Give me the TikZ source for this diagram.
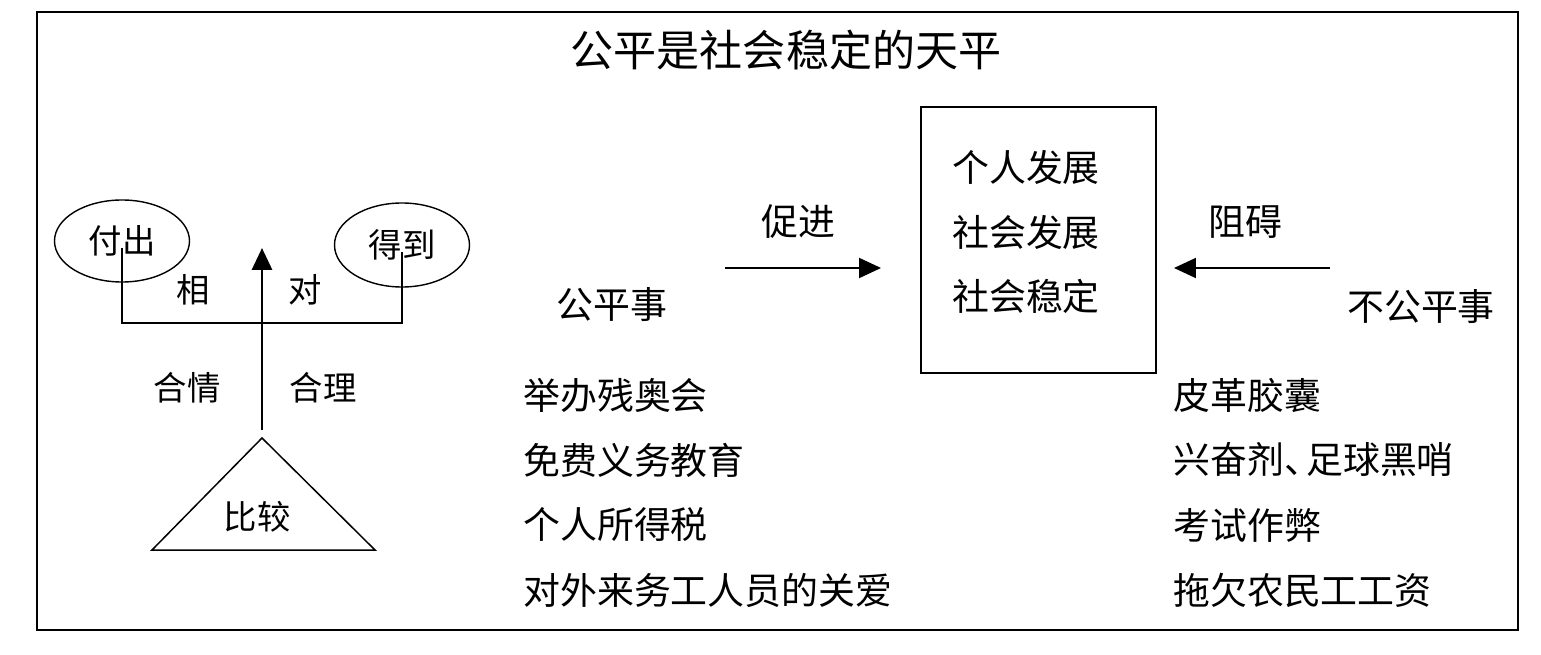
\documentclass[tikz,border=0pt]{standalone}
\usepackage{fontspec}
\setmainfont{Noto Sans CJK SC}
\usetikzlibrary{arrows.meta,shapes.geometric}
\tikzset{
  big/.style={font=\fontsize{21pt}{25pt}\selectfont},
  small/.style={font=\fontsize{19pt}{23pt}\selectfont},
  item/.style={big, anchor=west, inner sep=0pt},
  tip/.style={-{Triangle[length=4.4mm,width=4mm]}, line width=1.1pt},
}
\begin{document}
\begin{tikzpicture}[x=0.2mm,y=-0.2mm]
    \useasboundingbox (0,0) rectangle (1541,655);

    % 外框和标题
    \draw[line width=1.1pt] (37,12) rectangle (1518,630);
    \node[font=\fontsize{24.5pt}{29pt}\selectfont] (title) at (786,50) {公平是社会稳定的天平};

    % 左边的天平: 付出 / 得到
    \node[draw, ellipse, line width=0.8pt, minimum width=27mm, minimum height=16.4mm, small] (fuchu) at (122,241) {付出};
    \node[draw, ellipse, line width=0.8pt, minimum width=27mm, minimum height=16.8mm, small] (dedao) at (402,245) {得到};
    \coordinate (beam) at (262,323);
    \draw[line width=0.85pt] ([yshift=-1.4mm]fuchu.center) |- (beam) -| ([yshift=-1.4mm]dedao.center);

    % 支点三角形和向上的箭头
    \coordinate (apex) at (262,438);
    \coordinate (top) at (262,248);
    \draw[line width=0.85pt] (apex) -- (375,550) -- (152,550) -- cycle;
    \node[small] (bijiao) at (257,517) {比较};
    \draw[tip, line width=1.7pt] ([yshift=1.6mm]apex) -- (top);

    \node[small] (xiang) at (193,290) {相};
    \node[small] (dui) at (305,290) {对};
    \node[small] (heqing) at (187,388) {合情};
    \node[small] (heli) at (323,388) {合理};

    % 中间的方框
    \node[draw, line width=1.1pt, minimum width=47mm, minimum height=53.2mm] (goal) at (1038.5,240) {};
    \foreach \t [count=\i] in {个人发展,社会发展,社会稳定}
        \node[big] (goal\i) at (1026,103+64.5*\i) {\t};

    % 公平事 -> 促进
    \node[big] (cujin) at (798,222) {促进};
    \coordinate (cjstart) at (725,268);
    \draw[tip] (cjstart) -- ([xshift=-7.8mm]goal.west |- cjstart);
    \node[big] (gongping) at (612,305) {公平事};

    % 不公平事 -> 阻碍
    \node[big] (zuai) at (1245,222) {阻碍};
    \coordinate (zastart) at (1330,268);
    \draw[tip] (zastart) -- ([xshift=3.4mm]goal.east |- zastart);
    \node[big] (bugongping) at (1421,307) {不公平事};

    % 两边的例子
    \foreach \t [count=\i] in {举办残奥会,免费义务教育,个人所得税,对外来务工人员的关爱}
        \node[item] (fair\i) at (523,330+65*\i) {\t};
    \foreach \t [count=\i] in {皮革胶囊,兴奋剂、\kern-0.4em足球黑哨,考试作弊,拖欠农民工工资}
        \node[item] (unfair\i) at (1173,330+65*\i) {\t};
\end{tikzpicture}
\end{document}
